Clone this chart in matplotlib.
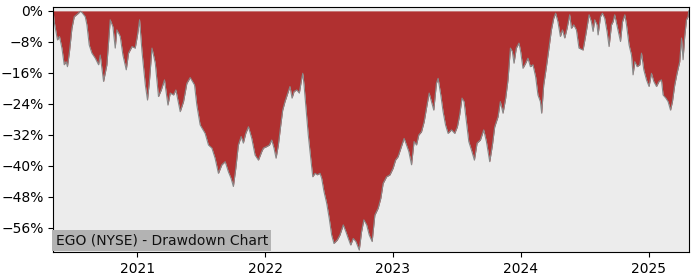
import numpy as np
import pandas as pd
import matplotlib
matplotlib.use("Agg")
import matplotlib.pyplot as plt
import matplotlib.dates as mdates
from matplotlib.ticker import MultipleLocator, PercentFormatter

# drawdown of EGO (NYSE): time in decimal years, drawdown in %
years = [
    2020.344, 2020.352, 2020.367, 2020.377, 2020.393, 2020.412, 2020.430, 2020.445, 2020.455, 2020.471,
    2020.490, 2020.508, 2020.541, 2020.555, 2020.568, 2020.594, 2020.607, 2020.625, 2020.646, 2020.672,
    2020.698, 2020.711, 2020.737, 2020.763, 2020.789, 2020.810, 2020.828, 2020.841, 2020.867, 2020.888,
    2020.914, 2020.932, 2020.959, 2020.984, 2021.002, 2021.018, 2021.037, 2021.063, 2021.080, 2021.096,
    2021.115, 2021.141, 2021.166, 2021.188, 2021.213, 2021.240, 2021.258, 2021.284, 2021.302, 2021.336,
    2021.362, 2021.388, 2021.414, 2021.448, 2021.466, 2021.492, 2021.531, 2021.557, 2021.584, 2021.609,
    2021.635, 2021.662, 2021.688, 2021.713, 2021.734, 2021.752, 2021.771, 2021.791, 2021.813, 2021.830,
    2021.849, 2021.870, 2021.896, 2021.922, 2021.948, 2021.974, 2021.987, 2022.013, 2022.034, 2022.052,
    2022.070, 2022.086, 2022.104, 2022.123, 2022.138, 2022.156, 2022.182, 2022.195, 2022.211, 2022.227,
    2022.248, 2022.268, 2022.287, 2022.295, 2022.305, 2022.320, 2022.338, 2022.357, 2022.373, 2022.391,
    2022.409, 2022.430, 2022.443, 2022.461, 2022.482, 2022.502, 2022.521, 2022.539, 2022.565, 2022.586,
    2022.612, 2022.633, 2022.651, 2022.670, 2022.690, 2022.711, 2022.737, 2022.755, 2022.773, 2022.795,
    2022.815, 2022.838, 2022.859, 2022.885, 2022.906, 2022.924, 2022.951, 2022.977, 2023.002, 2023.021,
    2023.041, 2023.063, 2023.088, 2023.107, 2023.125, 2023.146, 2023.166, 2023.185, 2023.203, 2023.224,
    2023.245, 2023.263, 2023.284, 2023.302, 2023.320, 2023.341, 2023.354, 2023.375, 2023.393, 2023.412,
    2023.432, 2023.459, 2023.484, 2023.505, 2023.523, 2023.541, 2023.557, 2023.576, 2023.594, 2023.615,
    2023.638, 2023.659, 2023.685, 2023.711, 2023.732, 2023.745, 2023.758, 2023.779, 2023.797, 2023.823,
    2023.841, 2023.862, 2023.883, 2023.901, 2023.920, 2023.935, 2023.948, 2023.966, 2023.987, 2024.000,
    2024.018, 2024.039, 2024.057, 2024.076, 2024.096, 2024.117, 2024.135, 2024.154, 2024.164, 2024.180,
    2024.201, 2024.221, 2024.240, 2024.258, 2024.273, 2024.291, 2024.310, 2024.326, 2024.344, 2024.362,
    2024.383, 2024.396, 2024.414, 2024.435, 2024.455, 2024.487, 2024.508, 2024.534, 2024.552, 2024.565,
    2024.578, 2024.596, 2024.604, 2024.623, 2024.638, 2024.656, 2024.674, 2024.690, 2024.709, 2024.721,
    2024.734, 2024.748, 2024.768, 2024.779, 2024.795, 2024.813, 2024.826, 2024.846, 2024.865, 2024.877,
    2024.891, 2024.909, 2024.930, 2024.943, 2024.961, 2024.982, 2025.002, 2025.021, 2025.039, 2025.060,
    2025.080, 2025.099, 2025.112, 2025.133, 2025.151, 2025.170, 2025.185, 2025.203, 2025.221, 2025.242,
    2025.256, 2025.268, 2025.281, 2025.295, 2025.307, 2025.313,
]
drawdown = [
    -0.3, -2.8, -5.7, -7.5, -6.6, -9.6, -13.9, -13.1, -14.4, -10.5,
    -4.5, -1.5, -0.6, -0.1, -0.4, -1.5, -3.6, -8.8, -10.9, -12.2,
    -13.9, -11.4, -18.2, -13.9, -2.3, -4.1, -9.6, -4.9, -6.6, -11.4,
    -15.2, -10.9, -9.2, -9.6, -6.2, -2.3, -10.5, -19.1, -23.0, -17.8,
    -9.6, -13.5, -22.1, -20.4, -17.8, -24.3, -21.2, -21.7, -20.4, -26.0,
    -23.4, -18.7, -17.2, -19.1, -24.3, -29.4, -31.6, -34.6, -35.4, -38.0,
    -41.9, -39.7, -38.9, -41.5, -43.2, -45.3, -40.6, -34.6, -32.4, -34.1,
    -31.6, -29.9, -32.9, -37.2, -38.5, -36.3, -35.4, -35.0, -34.6, -33.3,
    -35.4, -38.0, -34.6, -29.4, -25.6, -23.4, -20.8, -19.5, -22.5, -20.8,
    -20.4, -21.2, -17.4, -16.1, -19.1, -25.1, -32.0, -38.0, -42.8, -41.9,
    -42.3, -41.9, -43.2, -46.6, -49.6, -53.5, -57.8, -60.0, -59.1, -57.8,
    -55.2, -57.0, -58.7, -60.4, -58.7, -59.5, -61.7, -57.0, -53.9, -55.2,
    -57.8, -59.5, -52.7, -50.9, -48.3, -44.5, -42.8, -42.3, -40.6, -38.5,
    -37.6, -35.4, -32.9, -34.6, -36.3, -39.7, -33.7, -34.6, -32.0, -31.2,
    -28.6, -25.1, -21.2, -23.4, -25.6, -18.7, -17.4, -21.7, -26.0, -29.4,
    -31.6, -30.7, -31.6, -29.9, -26.8, -22.5, -23.4, -28.6, -33.7, -35.9,
    -38.5, -34.1, -33.3, -30.7, -33.7, -36.3, -38.9, -34.6, -29.9, -27.3,
    -23.4, -26.4, -22.5, -17.8, -9.6, -10.5, -13.5, -9.6, -8.3, -10.5,
    -14.8, -13.5, -12.2, -14.4, -13.9, -17.0, -21.7, -23.4, -26.4, -19.1,
    -14.4, -9.6, -4.9, -1.9, -0.6, -2.8, -6.6, -4.9, -7.0, -4.5,
    -1.0, -4.5, -3.6, -4.9, -9.6, -10.1, -6.2, -1.0, -2.8, -5.3,
    -2.3, -3.6, -6.2, -1.5, -0.6, -1.9, -5.3, -9.2, -3.6, -2.8,
    -1.0, -3.2, -6.2, -7.9, -2.8, -1.0, -3.6, -8.8, -11.4, -16.5,
    -13.1, -14.4, -13.9, -10.9, -15.2, -17.8, -19.5, -16.1, -18.2, -19.5,
    -18.2, -17.8, -21.7, -22.5, -23.4, -25.6, -23.4, -19.1, -16.1, -13.1,
    -7.0, -12.6, -6.6, -2.3, -1.5, 0.0,
]
title = "EGO (NYSE) - Drawdown Chart"


def to_date(y):
    yr = int(np.floor(y))
    start = pd.Timestamp(yr, 1, 1)
    ndays = (pd.Timestamp(yr + 1, 1, 1) - start).days
    return start + pd.Timedelta(days=(y - yr) * ndays)


dates = [to_date(y) for y in years]

fig = plt.figure(figsize=(7, 2.8), dpi=100)
ax = fig.add_axes([0.076, 0.1, 0.908, 0.875])
ax.set_facecolor('#ececec')

ax.fill_between(dates, drawdown, 0, color='#b03030', lw=0)
ax.plot(dates, drawdown, color='#888888', lw=0.8)

ax.set_xlim(dates[0], dates[-1])
ax.set_ylim(-62.2, 1.0)
ax.yaxis.set_major_locator(MultipleLocator(8))
ax.yaxis.set_major_formatter(PercentFormatter(decimals=0))
ax.xaxis.set_major_locator(mdates.YearLocator())
ax.xaxis.set_major_formatter(mdates.DateFormatter('%Y'))
ax.tick_params(labelsize=10)

ax.text(0.004, 0.018, title, transform=ax.transAxes, fontsize=10,
        va='bottom', ha='left', color='#111111',
        bbox=dict(facecolor='#b3b3b3', edgecolor='none', pad=2.5))

fig.savefig('out.png')
